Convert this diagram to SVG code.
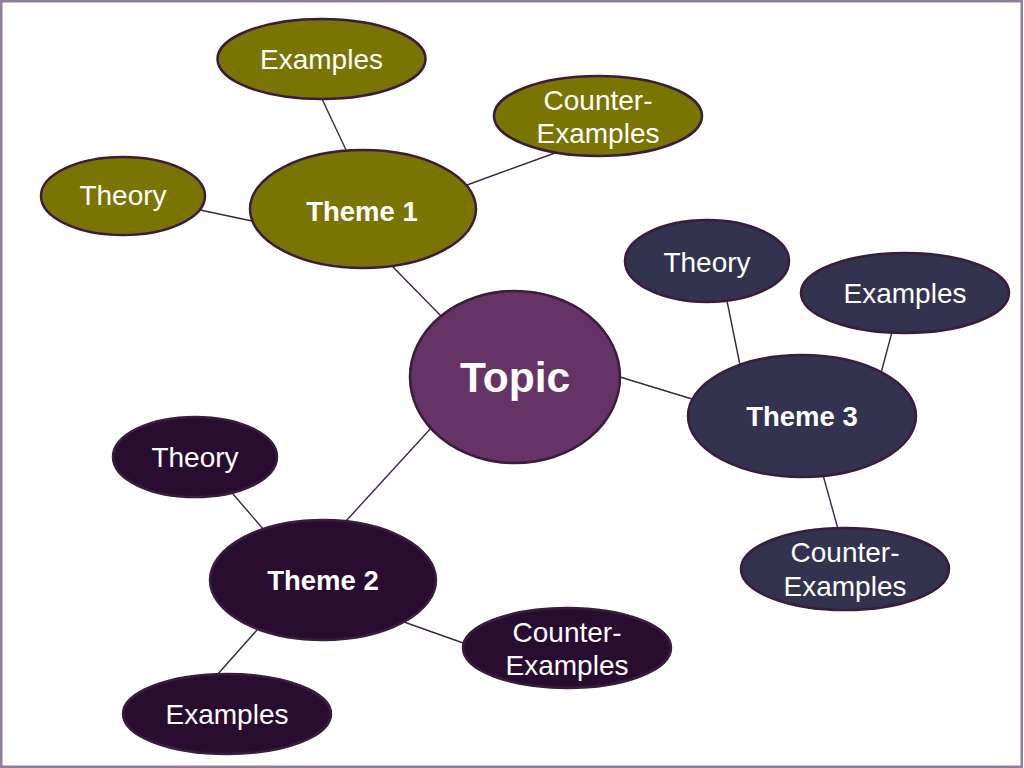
<svg xmlns="http://www.w3.org/2000/svg" width="1024" height="768" viewBox="0 0 1024 768">
<style>
  .bg { fill: #ffffff; }
  .frame { fill: none; stroke: #8f7f96; stroke-width: 2.5; }
  .conn line { stroke: #3c2645; stroke-width: 1.4; }
  ellipse { stroke: #3a1d3c; stroke-width: 2.5; }
  .olive { fill: #7a7503; }
  .topic { fill: #663366; }
  .navy { fill: #333350; }
  .plum { fill: #290d31; }
  text { font-family: "Liberation Sans", Arial, sans-serif; fill: #ffffff; text-anchor: middle; }
  .sm { font-size: 28px; }
  .th { font-size: 27.5px; font-weight: bold; }
  .tp { font-size: 42.5px; font-weight: bold; }
</style>
<rect class="bg" x="0" y="0" width="1024" height="768"/>
<rect class="frame" x="1.25" y="1.25" width="1020.5" height="765.5"/>
<g id="connectors" class="conn">
  <line x1="322" y1="99" x2="347" y2="152"/>
  <line x1="555" y1="153" x2="467" y2="185"/>
  <line x1="200" y1="210" x2="252" y2="221"/>
  <line x1="393" y1="267" x2="441" y2="316"/>
  <line x1="620" y1="377" x2="692" y2="399"/>
  <line x1="727" y1="301" x2="740" y2="365"/>
  <line x1="892" y1="332" x2="881" y2="373"/>
  <line x1="823" y1="475" x2="838" y2="529"/>
  <line x1="432" y1="427" x2="346" y2="521"/>
  <line x1="233" y1="494" x2="264" y2="530"/>
  <line x1="404" y1="622" x2="466" y2="644"/>
  <line x1="257" y1="630" x2="217" y2="675"/>
</g>
<g id="topic">
  <ellipse class="topic" cx="515" cy="377" rx="105" ry="86"/>
  <text class="tp" x="515" y="392">Topic</text>
</g>
<g id="theme1">
  <ellipse class="olive" cx="363" cy="209" rx="113" ry="59"/>
  <text class="th" x="362" y="221">Theme 1</text>
</g>
<g id="t1-examples">
  <ellipse class="olive" cx="321.5" cy="59" rx="104" ry="40"/>
  <text class="sm" x="321.5" y="69">Examples</text>
</g>
<g id="t1-counter">
  <ellipse class="olive" cx="598" cy="116" rx="104" ry="40"/>
  <text class="sm" x="598" y="110">Counter-</text>
  <text class="sm" x="598" y="143">Examples</text>
</g>
<g id="t1-theory">
  <ellipse class="olive" cx="123" cy="196" rx="82" ry="39"/>
  <text class="sm" x="123" y="205">Theory</text>
</g>
<g id="theme3">
  <ellipse class="navy" cx="802" cy="416" rx="114" ry="61"/>
  <text class="th" x="802" y="426">Theme 3</text>
</g>
<g id="t3-theory">
  <ellipse class="navy" cx="707" cy="261" rx="82" ry="41"/>
  <text class="sm" x="707" y="272">Theory</text>
</g>
<g id="t3-examples">
  <ellipse class="navy" cx="905" cy="293" rx="104" ry="40"/>
  <text class="sm" x="905" y="303">Examples</text>
</g>
<g id="t3-counter">
  <ellipse class="navy" cx="845" cy="569" rx="104" ry="41"/>
  <text class="sm" x="845" y="562">Counter-</text>
  <text class="sm" x="845" y="596">Examples</text>
</g>
<g id="theme2">
  <ellipse class="plum" cx="323" cy="580" rx="113" ry="60"/>
  <text class="th" x="323" y="590">Theme 2</text>
</g>
<g id="t2-theory">
  <ellipse class="plum" cx="195" cy="457" rx="82" ry="40"/>
  <text class="sm" x="195" y="467">Theory</text>
</g>
<g id="t2-counter">
  <ellipse class="plum" cx="567" cy="648" rx="104" ry="40"/>
  <text class="sm" x="567" y="642">Counter-</text>
  <text class="sm" x="567" y="675">Examples</text>
</g>
<g id="t2-examples">
  <ellipse class="plum" cx="227" cy="714" rx="104" ry="40"/>
  <text class="sm" x="227" y="724">Examples</text>
</g>
</svg>
